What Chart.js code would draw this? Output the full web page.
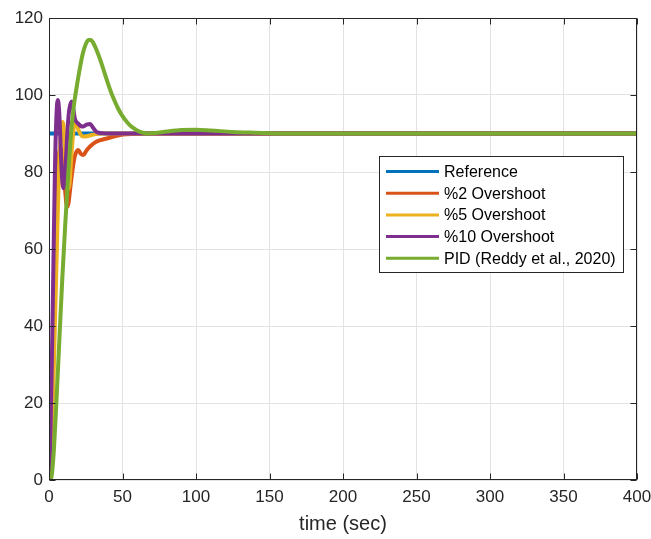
<!DOCTYPE html>
<html>
<head>
<meta charset="utf-8">
<script src="https://cdn.jsdelivr.net/npm/chart.js@4/dist/chart.umd.min.js"></script>
<style>
html,body{margin:0;padding:0;background:#fff;}
#wrap{width:651px;height:539px;position:relative;}
</style>
</head>
<body>
<div id="wrap"><canvas id="c" width="651" height="539"></canvas></div>
<script>
// ---- data ----
const seriesLabels = ['Reference', '%2 Overshoot', '%5 Overshoot', '%10 Overshoot', 'PID (Reddy et al., 2020)'];
const xTicks = [0, 50, 100, 150, 200, 250, 300, 350, 400];
const yTicks = [0, 20, 40, 60, 80, 100, 120];

const tRef = [0, 400];
const vRef = [90, 90];

const tOs2 = [0, 1, 2, 3, 4, 5, 6, 7, 8, 9, 10, 11, 12.3, 13.3, 14.5, 16, 17.5, 19.9, 21.5, 23.3, 25.5, 27.9, 32.4, 39.3, 48.3, 53, 65, 400];
const vOs2 = [0, 5, 18, 36, 55, 70, 80, 85, 86.3, 84.5, 80, 75, 71, 72, 76, 80.5, 84, 85.7, 84.8, 84.4, 85.6, 86.6, 87.9, 88.7, 89.6, 89.8, 90, 90];

const tOs5 = [0, 2, 4, 5, 6, 7, 8, 9.3, 10.3, 11, 12, 13, 14, 15, 16.3, 17.5, 18.7, 20, 22, 24, 27, 30, 35, 400];
const vOs5 = [0, 12, 40, 55, 70, 82, 89.5, 93, 90, 84, 78, 75.5, 77, 83, 89.5, 92.8, 92.5, 91, 89.5, 89.2, 89.4, 89.7, 90, 90];

const tOs10 = [0, 1, 2, 3, 4, 5, 5.9, 6.8, 7.7, 8.5, 9.7, 10.7, 11.7, 12.7, 13.7, 15.4, 16.5, 17.5, 19.5, 23, 25.5, 27.9, 30, 32, 36, 42, 400];
const vOs10 = [0, 12, 32, 56, 80, 94, 98.7, 96.5, 89, 81, 75.8, 78, 84.5, 91.5, 96, 98.3, 96.5, 94, 92.7, 91.8, 92.3, 92.5, 91.5, 90.5, 90.1, 90, 90];

const tPid = [0, 1.5, 3, 5, 7, 9, 11, 13, 15, 17, 19, 21, 23, 25, 27, 28.5, 30, 32, 35, 38, 41, 44, 47, 50, 53, 56, 60, 64, 68, 72, 80, 90, 100, 110, 125, 140, 160, 400];
const vPid = [0, 0.5, 6, 20, 36, 52, 66, 79, 90, 97.5, 102.5, 107, 110.8, 113.2, 114.3, 114.3, 113.6, 112, 109, 105.5, 102, 99, 96.5, 94.5, 93, 91.8, 90.8, 90.2, 90, 90.1, 90.5, 90.9, 91, 90.8, 90.4, 90.2, 90, 90];

const colors = ['#0072BD', '#D95319', '#EDB120', '#7E2F8E', '#77AC30'];

function pts(t, v) { return t.map((x, i) => ({x: x, y: v[i]})); }
const allT = [tRef, tOs2, tOs5, tOs10, tPid];
const allV = [vRef, vOs2, vOs5, vOs10, vPid];
const drawOrder = [5, 4, 3, 2, 1];

const datasets = seriesLabels.map((lab, i) => ({
  label: lab,
  data: pts(allT[i], allV[i]),
  borderColor: colors[i],
  backgroundColor: colors[i],
  borderWidth: 4,
  pointRadius: 0,
  fill: false,
  cubicInterpolationMode: 'monotone',
  order: drawOrder[i]
}));

const FONT = '"Liberation Sans", Arial, Helvetica, sans-serif';
const AX = '#262626';

const boxPlugin = {
  id: 'boxTicks',
  afterDatasetsDraw(chart) {
    const {ctx, chartArea: a, scales: {x, y}} = chart;
    ctx.save();
    // legend
    const lx = 379.5, ly = 156.5, lw = 244, lh = 116;
    ctx.fillStyle = '#fff';
    ctx.fillRect(lx, ly, lw, lh);
    ctx.strokeStyle = AX;
    ctx.lineWidth = 1;
    ctx.strokeRect(lx, ly, lw, lh);
    ctx.font = '16px ' + FONT;
    ctx.textBaseline = 'middle';
    ctx.textAlign = 'left';
    chart.data.datasets.forEach((ds, i) => {
      const yy = 171.5 + i * 21.7;
      ctx.strokeStyle = ds.borderColor;
      ctx.lineWidth = 3;
      ctx.beginPath();
      ctx.moveTo(386, yy);
      ctx.lineTo(439, yy);
      ctx.stroke();
      ctx.fillStyle = '#000';
      ctx.fillText(ds.label, 444, yy + 1);
    });
    // box
    ctx.strokeStyle = AX;
    ctx.lineWidth = 1;
    const L = Math.round(a.left) + 0.5, R = Math.round(a.right) - 0.5;
    const T = Math.round(a.top) + 0.5, B = Math.round(a.bottom) - 0.5;
    ctx.strokeRect(L, T, R - L, B - T);
    ctx.beginPath();
    xTicks.forEach(v => {
      const px = Math.round(x.getPixelForValue(v)) + 0.5;
      ctx.moveTo(px, B); ctx.lineTo(px, B - 6);
      ctx.moveTo(px, T); ctx.lineTo(px, T + 6);
    });
    yTicks.forEach(v => {
      const py = Math.round(y.getPixelForValue(v)) + 0.5;
      ctx.moveTo(L, py); ctx.lineTo(L + 6, py);
      ctx.moveTo(R, py); ctx.lineTo(R - 6, py);
    });
    ctx.stroke();
    ctx.restore();
  }
};

new Chart(document.getElementById('c'), {
  type: 'line',
  data: { datasets: datasets },
  options: {
    responsive: false,
    animation: false,
    devicePixelRatio: 1,
    layout: { padding: { top: 18, right: 14, left: 0, bottom: 0 } },
    plugins: { legend: { display: false }, tooltip: { enabled: false } },
    scales: {
      x: {
        type: 'linear', min: 0, max: 400,
        afterFit(s) { s.height = 59; s.paddingLeft = 0; s.paddingRight = 0; },
        afterBuildTicks(s) { s.ticks = xTicks.map(v => ({value: v})); },
        ticks: { color: AX, font: { family: FONT, size: 17 }, padding: 7, maxRotation: 0 },
        grid: { color: '#e3e3e3', lineWidth: 1, drawTicks: false },
        border: { display: false },
        title: { display: true, text: 'time (sec)', color: AX, font: { family: FONT, size: 20 }, padding: { top: 0, bottom: 3 } }
      },
      y: {
        type: 'linear', min: 0, max: 120,
        afterFit(s) { s.width = 49; s.paddingTop = 0; s.paddingBottom = 0; },
        afterBuildTicks(s) { s.ticks = yTicks.map(v => ({value: v})); },
        ticks: { color: AX, font: { family: FONT, size: 17 }, padding: 6 },
        grid: { color: '#e3e3e3', lineWidth: 1, drawTicks: false },
        border: { display: false }
      }
    }
  },
  plugins: [boxPlugin]
});
</script>
</body>
</html>
